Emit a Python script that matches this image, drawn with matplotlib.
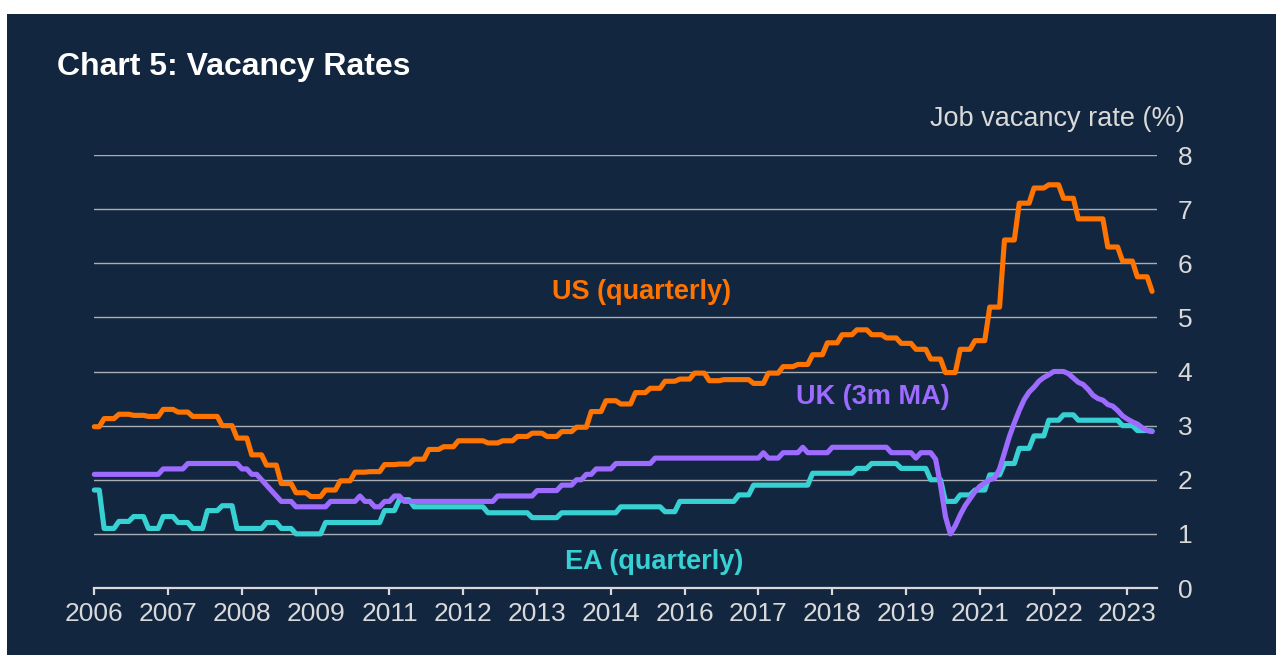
import numpy as np
import pandas as pd
import matplotlib
matplotlib.use("Agg")
import matplotlib.pyplot as plt
from matplotlib.patches import Rectangle

plt.rcParams['font.family'] = ['Liberation Sans', 'DejaVu Sans']

# ---------------- data ----------------
months = pd.date_range('2006-01-01', periods=216, freq='MS')
tick_step = 15

# US job openings rate (quarterly values, held monthly)
us_quarterly = [
    2.98, 3.13, 3.21, 3.19, 3.17, 3.30, 3.25, 3.17, 3.17, 3.00,
    2.77, 2.46, 2.27, 1.93, 1.76, 1.69, 1.81, 1.98, 2.14, 2.15,
    2.28, 2.29, 2.38, 2.56, 2.61, 2.72, 2.72, 2.68, 2.72, 2.80,
    2.86, 2.80, 2.89, 2.97, 3.26, 3.46, 3.40, 3.61, 3.69, 3.82,
    3.86, 3.97, 3.83, 3.85, 3.85, 3.78, 3.97, 4.09, 4.13, 4.31,
    4.53, 4.68, 4.77, 4.68, 4.62, 4.52, 4.41, 4.23, 3.98, 4.41,
    4.57, 5.19, 6.43, 7.11, 7.39, 7.45, 7.20, 6.82, 6.82, 6.30,
    6.04, 5.75, 5.48,
]

# Euro area job vacancy rate (quarterly values, held monthly)
ea_quarterly = [
    1.81, 1.10, 1.23, 1.32, 1.10, 1.32, 1.21, 1.10, 1.43, 1.52,
    1.10, 1.10, 1.21, 1.10, 1.00, 1.00, 1.21, 1.21, 1.21, 1.21,
    1.43, 1.63, 1.50, 1.50, 1.50, 1.50, 1.50, 1.39, 1.39, 1.39,
    1.30, 1.30, 1.39, 1.39, 1.39, 1.39, 1.50, 1.50, 1.50, 1.41,
    1.60, 1.60, 1.60, 1.60, 1.72, 1.90, 1.90, 1.90, 1.90, 2.12,
    2.12, 2.12, 2.21, 2.30, 2.30, 2.21, 2.21, 2.00, 1.60, 1.72,
    1.81, 2.09, 2.30, 2.58, 2.81, 3.10, 3.20, 3.10, 3.10, 3.10,
    3.00, 2.91, 2.90,
]

# UK vacancy rate, 3-month moving average (monthly)
uk_monthly = [
    2.1, 2.1, 2.1, 2.1, 2.1, 2.1, 2.1, 2.1, 2.1, 2.1, 2.1, 2.1,          # 2006
    2.1, 2.1, 2.2, 2.2, 2.2, 2.2, 2.2, 2.3, 2.3, 2.3, 2.3, 2.3,          # 2007
    2.3, 2.3, 2.3, 2.3, 2.3, 2.3, 2.2, 2.2, 2.1, 2.1, 2.0, 1.9,          # 2008
    1.8, 1.7, 1.6, 1.6, 1.6, 1.5, 1.5, 1.5, 1.5, 1.5, 1.5, 1.5,          # 2009
    1.6, 1.6, 1.6, 1.6, 1.6, 1.6, 1.7, 1.6, 1.6, 1.5, 1.5, 1.6,          # 2010
    1.6, 1.7, 1.7, 1.6, 1.6, 1.6, 1.6, 1.6, 1.6, 1.6, 1.6, 1.6,          # 2011
    1.6, 1.6, 1.6, 1.6, 1.6, 1.6, 1.6, 1.6, 1.6, 1.6, 1.7, 1.7,          # 2012
    1.7, 1.7, 1.7, 1.7, 1.7, 1.7, 1.8, 1.8, 1.8, 1.8, 1.8, 1.9,          # 2013
    1.9, 1.9, 2.0, 2.0, 2.1, 2.1, 2.2, 2.2, 2.2, 2.2, 2.3, 2.3,          # 2014
    2.3, 2.3, 2.3, 2.3, 2.3, 2.3, 2.4, 2.4, 2.4, 2.4, 2.4, 2.4,          # 2015
    2.4, 2.4, 2.4, 2.4, 2.4, 2.4, 2.4, 2.4, 2.4, 2.4, 2.4, 2.4,          # 2016
    2.4, 2.4, 2.4, 2.4, 2.5, 2.4, 2.4, 2.4, 2.5, 2.5, 2.5, 2.5,          # 2017
    2.6, 2.5, 2.5, 2.5, 2.5, 2.5, 2.6, 2.6, 2.6, 2.6, 2.6, 2.6,          # 2018
    2.6, 2.6, 2.6, 2.6, 2.6, 2.6, 2.5, 2.5, 2.5, 2.5, 2.5, 2.4,          # 2019
    2.5, 2.5, 2.5, 2.38, 1.9, 1.32, 1.0, 1.15, 1.35, 1.52, 1.65, 1.78,   # 2020
    1.88, 1.94, 2.0, 2.03, 2.2, 2.5, 2.8, 3.05, 3.28, 3.48, 3.62, 3.71,  # 2021
    3.82, 3.89, 3.94, 4.0, 4.0, 4.0, 3.96, 3.88, 3.80, 3.76, 3.67, 3.56, # 2022
    3.50, 3.47, 3.39, 3.36, 3.28, 3.18, 3.12, 3.07, 3.03, 2.96, 2.91, 2.89, # 2023
]

# quarterly series are shown from the quarter's last month onward
quarter_hold = [2] + [3] * 71 + [1]
us = np.repeat(us_quarterly, quarter_hold)
ea = np.repeat(ea_quarterly, quarter_hold)
uk = np.array(uk_monthly)

# ---------------- style ----------------
W, H = 1276, 655
NAVY = '#13263F'
TXT = '#D9D9D9'
GRID = '#A9ADB4'
C_US = '#FF7300'
C_UK = '#9D6BFF'
C_EA = '#38D1D3'

fig = plt.figure(figsize=(W / 100, H / 100), dpi=100)
fig.patch.set_facecolor('white')
fig.patches.append(Rectangle((7 / W, 0), 1 - 7 / W, 1 - 14 / H,
                             transform=fig.transFigure, facecolor=NAVY,
                             edgecolor='none', zorder=-10))

ax = fig.add_axes([94.3 / W, 1 - 588 / H, (1157 - 94.3) / W, (588 - 155) / H])
ax.set_facecolor('none')

x = np.arange(len(months))
lw = 3.7
ax.plot(x, ea, color=C_EA, lw=lw, solid_joinstyle='round', solid_capstyle='round', zorder=3, clip_on=False)
ax.plot(x, uk, color=C_UK, lw=lw, solid_joinstyle='round', solid_capstyle='round', zorder=4, clip_on=False)
ax.plot(x, us, color=C_US, lw=lw, solid_joinstyle='round', solid_capstyle='round', zorder=5, clip_on=False)

ax.set_xlim(0, 216)
ax.set_ylim(0, 8)

ax.set_xticks(x[::tick_step])
ax.set_xticklabels([str(d.year) for d in months[::tick_step]])
ax.set_yticks(range(0, 9))
ax.yaxis.tick_right()

for s in ['top', 'left', 'right']:
    ax.spines[s].set_visible(False)
ax.spines['bottom'].set_color(TXT)
ax.spines['bottom'].set_linewidth(1.6)

ax.tick_params(axis='x', colors=TXT, labelcolor=TXT, labelsize=19, length=5,
               width=1.6, direction='out', pad=5)
ax.tick_params(axis='y', colors=TXT, labelcolor=TXT, labelsize=19, length=0, pad=15)
ax.grid(axis='y', color=GRID, lw=1.0, zorder=0)
ax.set_axisbelow(True)

ax.text(111.3, 5.47, 'US (quarterly)', color=C_US, fontsize=19.5, fontweight='bold',
        ha='center', va='center')
ax.text(158.3, 3.53, 'UK (3m MA)', color=C_UK, fontsize=19.5, fontweight='bold',
        ha='center', va='center')
ax.text(113.8, 0.48, 'EA (quarterly)', color=C_EA, fontsize=19.5, fontweight='bold',
        ha='center', va='center')

fig.text(57 / W, 1 - 75 / H, 'Chart 5: Vacancy Rates', color='white', fontsize=23,
         fontweight='bold', ha='left', va='baseline')
fig.text(1185 / W, 1 - 126 / H, 'Job vacancy rate (%)', color=TXT, fontsize=19.5,
         ha='right', va='baseline')

fig.savefig('out.png', dpi=100, facecolor=fig.get_facecolor())
